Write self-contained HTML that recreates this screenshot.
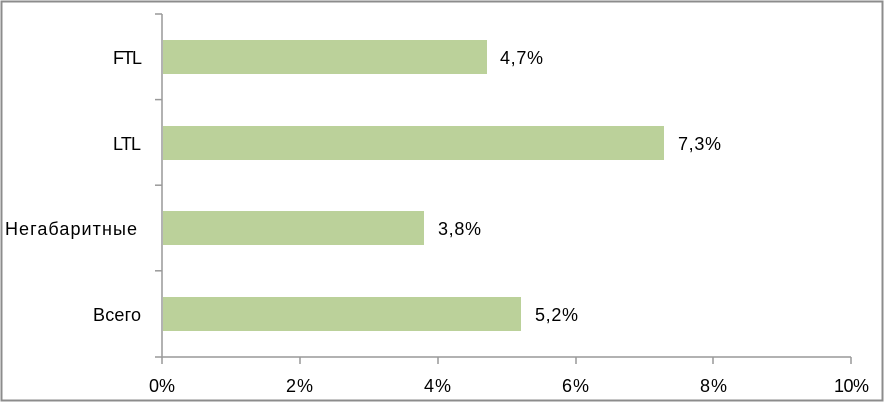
<!DOCTYPE html>
<html><head><meta charset="utf-8"><style>
html,body{margin:0;padding:0;background:#fff;width:886px;height:405px;overflow:hidden}
text{font-family:"Liberation Sans",sans-serif;font-size:18px;fill:#000}
</style></head><body>
<svg width="886" height="405" xmlns="http://www.w3.org/2000/svg">
<rect x="1.5" y="1.5" width="881" height="399" fill="#fff" stroke="#8c8c8c" stroke-width="2"/>
<g stroke="#999" stroke-width="1.5" fill="none">
<line x1="162" y1="14" x2="162" y2="357"/>
<line x1="155" y1="357" x2="851" y2="357"/>
<line x1="155" y1="14" x2="162" y2="14"/>
<line x1="155" y1="99.6" x2="162" y2="99.6"/>
<line x1="155" y1="185.2" x2="162" y2="185.2"/>
<line x1="155" y1="270.8" x2="162" y2="270.8"/>
<line x1="162" y1="357" x2="162" y2="364"/>
<line x1="300" y1="357" x2="300" y2="364"/>
<line x1="438" y1="357" x2="438" y2="364"/>
<line x1="576" y1="357" x2="576" y2="364"/>
<line x1="713" y1="357" x2="713" y2="364"/>
<line x1="851" y1="357" x2="851" y2="364"/>
</g>
<g fill="#bbd19a">
<rect x="163" y="40" width="324" height="34"/>
<rect x="163" y="126" width="501" height="34"/>
<rect x="163" y="211" width="261" height="34"/>
<rect x="163" y="297" width="358" height="34"/>
</g>
<text x="500" y="64" textLength="43">4,7%</text>
<text x="678" y="150" textLength="43">7,3%</text>
<text x="438" y="235" textLength="43">3,8%</text>
<text x="535" y="321" textLength="43">5,2%</text>
<text x="113" y="64" textLength="29">FTL</text>
<text x="113" y="150" textLength="28">LTL</text>
<text x="5" y="235" textLength="132">Негабаритные</text>
<text x="93" y="321" textLength="48">Всего</text>
<text x="149" y="392" textLength="26">0%</text>
<text x="286" y="392" textLength="27">2%</text>
<text x="424" y="392" textLength="27">4%</text>
<text x="562" y="392" textLength="27">6%</text>
<text x="700" y="392" textLength="27">8%</text>
<text x="834" y="392" textLength="35">10%</text>
</svg>
</body></html>
